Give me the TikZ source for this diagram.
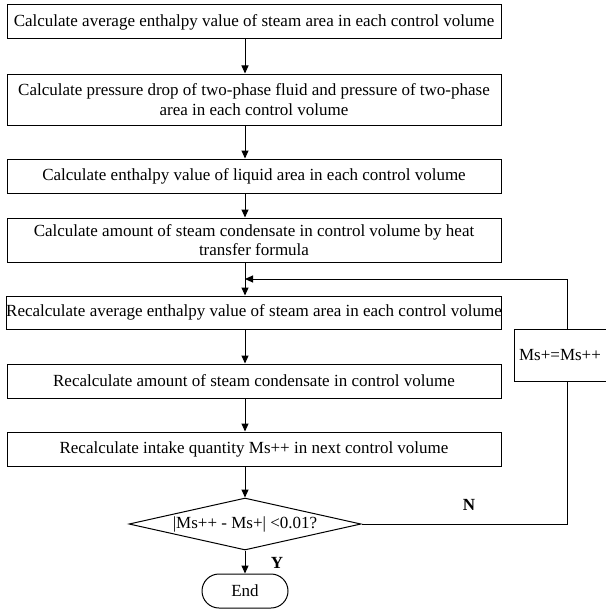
\documentclass[tikz,border=0pt]{standalone}
\usepackage{fontspec}
\setmainfont{Liberation Serif}
\usetikzlibrary{arrows.meta,shapes.geometric}
\tikzset{
	procbox/.style={draw, line width=1pt, minimum width=494pt, inner sep=0pt, align=center, font=\fontsize{17}{19.5}\selectfont},
	flowline/.style={line width=1pt, -{Triangle[length=8pt,width=7pt]}},
}

\begin{document}
\begin{tikzpicture}[x=1pt,y=-1pt]
		%%%%% START %%%%%
		\useasboundingbox (0, 0) rectangle (605, 610);
		
		\node[procbox, minimum height=34pt] (calcH) at (254, 22) {Calculate average enthalpy value of steam area in each control volume};
		\node[procbox, minimum height=51pt] (calcP) at (254, 99.5) {Calculate pressure drop of two-phase fluid and pressure of two-phase\\area in each control volume};
		\node[procbox, minimum height=34pt] (calcL) at (254, 176) {Calculate enthalpy value of liquid area in each control volume};
		\node[procbox, minimum height=44pt] (calcC) at (254, 240) {Calculate amount of steam condensate in control volume by heat\\transfer formula};
		
		\node[procbox, minimum height=33pt] (reH) at (254, 312.5) {Recalculate average enthalpy value of steam area in each control volume};
		\node[procbox, minimum height=34pt] (reC) at (254, 381) {Recalculate amount of steam condensate in control volume};
		\node[procbox, minimum height=34pt] (reM) at (254, 449) {Recalculate intake quantity Ms++ in next control volume};
		
		\node[draw, line width=1pt, diamond, aspect=4.46, minimum width=232pt, minimum height=52pt, inner sep=0pt, font=\fontsize{17}{19.5}\selectfont] (check) at (245, 524) {|Ms++ - Ms+| <0.01?};
		\node[draw, line width=1pt, rounded corners=17pt, minimum width=86pt, minimum height=34pt, inner sep=0pt, font=\fontsize{17}{19.5}\selectfont] (stop) at (245, 591) {End};
		
		\node[draw, line width=1pt, minimum width=106pt, minimum height=52pt, inner sep=0pt, font=\fontsize{17}{19.5}\selectfont] (swap) at (567, 355) {\hspace*{-14pt}Ms+=Ms++};
		
		% arrow column and loop
		\coordinate (col) at (245, 0);
		\coordinate (join) at (245, 279);
		
		\draw[flowline] (calcH.south -| col) -- (calcP.north -| col);
		\draw[flowline] (calcP.south -| col) -- (calcL.north -| col);
		\draw[flowline] (calcL.south -| col) -- (calcC.north -| col);
		\draw[flowline] (calcC.south -| col) -- (reH.north -| col);
		\draw[flowline] (reH.south -| col) -- (reC.north -| col);
		\draw[flowline] (reC.south -| col) -- (reM.north -| col);
		\draw[flowline] (reM.south -| col) -- (check.north);
		\draw[flowline] (check.south) -- (stop.north);
		
		\draw[line width=1pt] (check.east) -| (swap.south);
		\draw[flowline] (swap.north) |- (join);
		
		\node[font=\fontsize{17}{19.5}\selectfont\bfseries] (yes) at (277, 563) {Y};
		\node[font=\fontsize{17}{19.5}\selectfont\bfseries] (no) at (469, 505) {N};
		%%%%% END %%%%%
	\end{tikzpicture}
\end{document}
